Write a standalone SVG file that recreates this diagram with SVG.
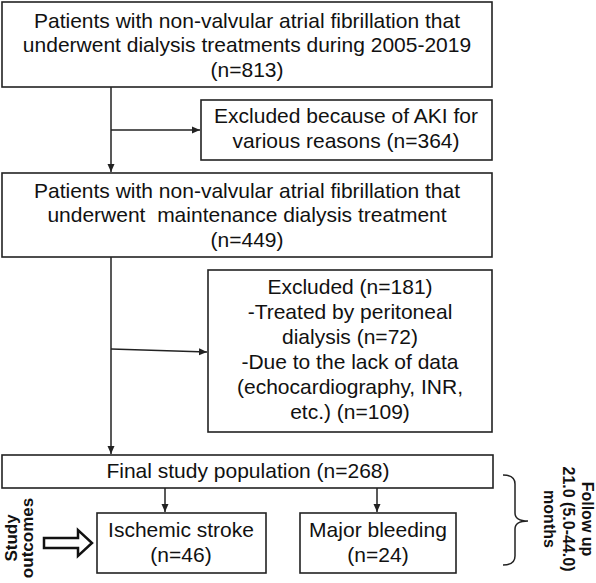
<svg xmlns="http://www.w3.org/2000/svg" width="596" height="583" viewBox="0 0 596 583">
<style>
.box{fill:#fff;stroke:#222;stroke-width:1.6}
.t{font-family:"Liberation Sans",Arial,sans-serif;font-size:21px;fill:#111;text-anchor:middle}
.r{font-family:"Liberation Sans",Arial,sans-serif;font-size:16px;font-weight:bold;fill:#111;text-anchor:middle}
.c{stroke:#222;stroke-width:1.5;fill:none}
</style>
<defs>
<marker id="ah" markerUnits="userSpaceOnUse" markerWidth="9" markerHeight="8" refX="8" refY="4" orient="auto">
<path d="M0,0.5 L8,4 L0,7.5 z" fill="#222"/>
</marker>
</defs>
<rect width="596" height="583" fill="#fff"/>
<g id="connectors">
<line class="c" x1="111" y1="87" x2="111" y2="172" marker-end="url(#ah)"/>
<line class="c" x1="111" y1="130" x2="200" y2="130" marker-end="url(#ah)"/>
<line class="c" x1="111" y1="257" x2="111" y2="454" marker-end="url(#ah)"/>
<line class="c" x1="111" y1="349" x2="207" y2="352" marker-end="url(#ah)"/>
<line class="c" x1="165" y1="488" x2="165" y2="512" marker-end="url(#ah)"/>
<line class="c" x1="377" y1="488" x2="377" y2="512" marker-end="url(#ah)"/>
<path class="c" d="M503,475 Q515,475 515,484 L515,513 Q515,521 528,521 Q515,521 515,529 L515,556 Q515,565 503,565"/>
<path d="M44,538 L78,538 L78,530 L92,543 L78,556 L78,548 L44,548 Z" fill="#fff" stroke="#111" stroke-width="2.5" stroke-linejoin="miter"/>
</g>
<g id="n1">
<rect class="box" x="2" y="2" width="490" height="85"/>
<text class="t" x="247" y="28">Patients with non-valvular atrial fibrillation that</text>
<text class="t" x="247" y="52">underwent dialysis treatments during 2005-2019</text>
<text class="t" x="247" y="77">(n=813)</text>
</g>
<g id="n2">
<rect class="box" x="201" y="100" width="291" height="60"/>
<text class="t" x="346" y="123">Excluded because of AKI for</text>
<text class="t" x="346" y="148">various reasons (n=364)</text>
</g>
<g id="n3">
<rect class="box" x="2" y="173" width="490" height="84"/>
<text class="t" x="247" y="198" style="white-space:pre">Patients with non-valvular atrial fibrillation that</text>
<text class="t" x="247" y="222" style="white-space:pre">underwent  maintenance dialysis treatment</text>
<text class="t" x="247" y="247">(n=449)</text>
</g>
<g id="n4">
<rect class="box" x="208" y="270" width="284" height="162"/>
<text class="t" x="350" y="294">Excluded (n=181)</text>
<text class="t" x="350" y="319">-Treated by peritoneal</text>
<text class="t" x="350" y="344">dialysis (n=72)</text>
<text class="t" x="350" y="369">-Due to the lack of data</text>
<text class="t" x="350" y="394">(echocardiography, INR,</text>
<text class="t" x="350" y="419">etc.) (n=109)</text>
</g>
<g id="n5">
<rect class="box" x="2" y="455" width="491" height="33"/>
<text class="t" x="248" y="478">Final study population (n=268)</text>
</g>
<g id="n6">
<rect class="box" x="97" y="513" width="169" height="60"/>
<text class="t" x="181" y="537">Ischemic stroke</text>
<text class="t" x="181" y="562">(n=46)</text>
</g>
<g id="n7">
<rect class="box" x="300" y="513" width="156" height="60"/>
<text class="t" x="378" y="537">Major bleeding</text>
<text class="t" x="378" y="562">(n=24)</text>
</g>
<g id="followup">
<text class="r" transform="translate(582,519) rotate(90)">Follow up</text>
<text class="r" transform="translate(563,519) rotate(90)">21.0 (5.0-44.0)</text>
<text class="r" transform="translate(544,519) rotate(90)">months</text>
</g>
<g id="outcomes">
<text class="r" style="font-size:17px" transform="translate(17,538) rotate(-90)">Study</text>
<text class="r" style="font-size:17px" transform="translate(33,538) rotate(-90)">outcomes</text>
</g>
</svg>
